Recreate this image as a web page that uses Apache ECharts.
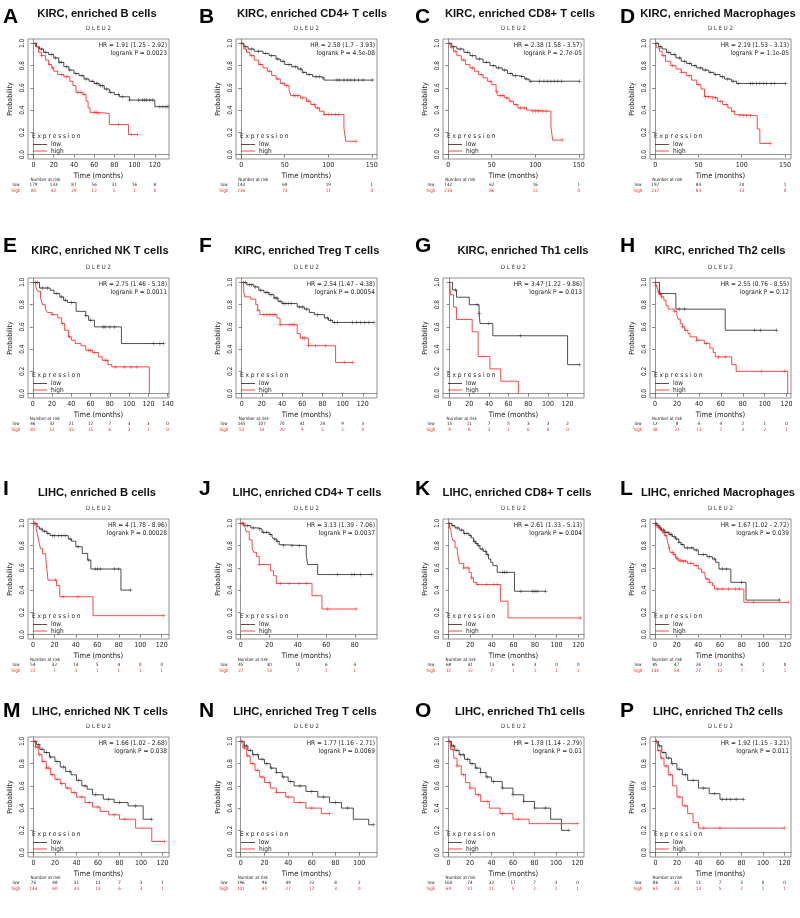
<!DOCTYPE html>
<html><head><meta charset="utf-8">
<script src="https://cdn.jsdelivr.net/npm/echarts@6/dist/echarts.min.js"></script>
<style>html,body{margin:0;padding:0;background:#fff}#c{width:800px;height:918px}</style>
</head><body><div id="c"></div>
<script>
// ---------------- DATA ----------------
const letters = ['A','B','C','D','E','F','G','H','I','J','K','L','M','N','O','P'];
const titles = ['KIRC, enriched B cells','KIRC, enriched CD4+ T cells','KIRC, enriched CD8+ T cells','KIRC, enriched Macrophages',
  'KIRC, enriched NK T cells','KIRC, enriched Treg T cells','KIRC, enriched Th1 cells','KIRC, enriched Th2 cells',
  'LIHC, enriched B cells','LIHC, enriched CD4+ T cells','LIHC, enriched CD8+ T cells','LIHC, enriched Macrophages',
  'LIHC, enriched NK T cells','LIHC, enriched Treg T cells','LIHC, enriched Th1 cells','LIHC, enriched Th2 cells'];
const hrTexts = ['HR = 1.91 (1.25 - 2.92)','HR = 2.58 (1.7 - 3.93)','HR = 2.38 (1.58 - 3.57)','HR = 2.19 (1.53 - 3.13)',
  'HR = 2.75 (1.46 - 5.18)','HR = 2.54 (1.47 - 4.38)','HR = 3.47 (1.22 - 9.86)','HR = 2.55 (0.76 - 8.55)',
  'HR = 4 (1.78 - 8.96)','HR = 3.13 (1.39 - 7.06)','HR = 2.61 (1.33 - 5.13)','HR = 1.67 (1.02 - 2.72)',
  'HR = 1.66 (1.02 - 2.68)','HR = 1.77 (1.16 - 2.71)','HR = 1.78 (1.14 - 2.79)','HR = 1.92 (1.15 - 3.21)'];
const pTexts = ['logrank P = 0.0023','logrank P = 4.5e-08','logrank P = 2.7e-05','logrank P = 1.1e-05',
  'logrank P = 0.0011','logrank P = 0.00054','logrank P = 0.013','logrank P = 0.12',
  'logrank P = 0.00028','logrank P = 0.0037','logrank P = 0.004','logrank P = 0.039',
  'logrank P = 0.038','logrank P = 0.0069','logrank P = 0.01','logrank P = 0.011'];
const yTicks = [0, 0.2, 0.4, 0.6, 0.8, 1.0];

// A
const A_ticks = [0,20,40,60,80,100,120];
const A_low = [[0,1],[3,0.97],[6,0.95],[10,0.92],[15,0.90],[20,0.87],[25,0.83],[30,0.79],[35,0.76],[40,0.73],[45,0.71],[50,0.68],[55,0.66],[60,0.64],[65,0.62],[70,0.59],[75,0.56],[80,0.54],[85,0.52],[95,0.49],[120,0.43],[133,0.43]];
const A_high = [[0,1],[2,0.97],[5,0.92],[8,0.89],[12,0.85],[15,0.81],[18,0.78],[20,0.75],[24,0.72],[30,0.70],[36,0.66],[39,0.62],[42,0.56],[49,0.54],[52,0.48],[54,0.42],[56,0.38],[63,0.37],[75,0.27],[94,0.18],[103,0.18]];
const A_lowCens = [2,8,12,18,22,26,28,33,36,42,48,52,58,62,63,66,68,72,76,84,88,95,104,108,110,112,115,118,125,128,131,133];
const A_highCens = [8,16,19,28,33,44,47,50,60,62,64,84,97,103];
const A_riskLow = [179,133,87,56,31,16,8];
const A_riskHigh = [83,42,29,12,5,1,0];
// B
const B_ticks = [0,50,100,150];
const B_low = [[0,1],[3,0.97],[8,0.95],[15,0.93],[25,0.91],[32,0.89],[40,0.86],[45,0.84],[50,0.81],[58,0.79],[65,0.77],[70,0.74],[75,0.72],[82,0.70],[92,0.69],[95,0.67],[151,0.67]];
const B_high = [[0,1],[3,0.95],[6,0.92],[10,0.89],[15,0.85],[20,0.81],[25,0.78],[30,0.75],[35,0.71],[40,0.68],[45,0.64],[50,0.62],[55,0.58],[57,0.53],[68,0.51],[75,0.48],[80,0.45],[85,0.42],[90,0.39],[95,0.36],[118,0.24],[120,0.12],[132,0.12]];
const B_lowCens = [1,5,12,20,28,35,42,48,55,62,68,72,78,86,90,94,110,113,118,122,126,130,135,140,151];
const B_highCens = [12,22,33,42,48,52,60,62,65,70,77,84,88,96,100,104,108,112,132];
const B_riskLow = [143,69,19,1];
const B_riskHigh = [236,73,11,0];
// C
const C_ticks = [0,50,100,150];
const C_low = [[0,1],[4,0.97],[10,0.95],[18,0.92],[25,0.89],[32,0.86],[40,0.83],[48,0.80],[55,0.78],[62,0.76],[68,0.73],[74,0.71],[80,0.70],[88,0.68],[93,0.66],[151,0.66]];
const C_high = [[0,1],[3,0.96],[6,0.93],[10,0.89],[15,0.85],[20,0.81],[25,0.78],[30,0.75],[35,0.72],[40,0.69],[45,0.66],[50,0.63],[55,0.57],[57,0.53],[65,0.51],[70,0.48],[75,0.45],[80,0.42],[90,0.40],[95,0.39],[118,0.25],[120,0.13],[131,0.13]];
const C_lowCens = [2,6,14,22,28,36,44,52,58,65,72,77,84,90,95,105,110,114,118,122,126,130,151];
const C_highCens = [8,18,28,38,48,56,60,63,67,72,78,83,88,97,100,104,108,113,131];
const C_riskLow = [142,62,16,1];
const C_riskHigh = [214,86,12,0];
// D
const D_ticks = [0,50,100,150];
const D_low = [[0,1],[4,0.97],[8,0.95],[13,0.92],[18,0.90],[24,0.87],[30,0.84],[36,0.82],[42,0.80],[48,0.78],[55,0.76],[62,0.74],[68,0.72],[75,0.70],[80,0.68],[88,0.66],[94,0.64],[151,0.64]];
const D_high = [[0,1],[2,0.96],[5,0.93],[8,0.89],[12,0.84],[18,0.80],[24,0.77],[30,0.74],[36,0.71],[42,0.67],[48,0.63],[53,0.59],[57,0.52],[65,0.51],[72,0.48],[78,0.45],[84,0.42],[88,0.39],[92,0.36],[95,0.35],[118,0.23],[121,0.10],[133,0.10]];
const D_lowCens = [2,6,15,22,28,34,40,46,52,58,64,70,78,84,90,96,110,113,117,121,125,129,134,138,151];
const D_highCens = [10,20,30,40,50,58,62,66,70,76,82,90,98,102,106,110,133];
const D_riskLow = [197,84,20,1];
const D_riskHigh = [237,83,13,0];
// E
const E_ticks = [0,20,40,60,80,100,120,140];
const E_low = [[0,1],[7,0.95],[18,0.93],[22,0.90],[28,0.87],[32,0.84],[36,0.82],[45,0.74],[55,0.70],[58,0.66],[64,0.60],[92,0.45],[136,0.45]];
const E_high = [[0,1],[3,0.96],[5,0.92],[8,0.86],[10,0.80],[13,0.76],[15,0.73],[20,0.71],[26,0.68],[30,0.63],[33,0.57],[37,0.51],[40,0.48],[44,0.45],[50,0.43],[55,0.39],[62,0.37],[68,0.33],[72,0.30],[78,0.26],[82,0.24],[121,0]];
const E_lowCens = [3,5,10,15,25,30,34,40,55,60,73,75,80,85,125,132,136];
const E_highCens = [20,31,38,58,60,64,75,77,86,95,102,108];
const E_riskLow = [46,32,21,12,7,3,3,0];
const E_riskHigh = [81,52,33,15,6,3,1,0];
// F
const F_ticks = [0,20,40,60,80,100,120];
const F_low = [[0,1],[5,0.98],[12,0.96],[17,0.93],[22,0.91],[27,0.89],[32,0.86],[36,0.83],[40,0.81],[55,0.78],[62,0.76],[67,0.73],[72,0.71],[82,0.68],[86,0.66],[90,0.64],[131,0.64]];
const F_high = [[0,1],[2,0.92],[3,0.87],[9,0.85],[14,0.80],[16,0.75],[18,0.71],[35,0.68],[38,0.62],[55,0.54],[58,0.50],[66,0.43],[93,0.28],[110,0.28]];
const F_lowCens = [2,4,8,10,14,19,24,26,29,33,35,38,41,43,46,49,57,60,64,75,85,88,92,95,110,114,118,122,126,131];
const F_highCens = [16,22,25,28,31,33,38,47,50,52,60,62,66,73,83,102,110];
const F_riskLow = [145,107,70,41,24,9,3];
const F_riskHigh = [53,33,20,9,5,2,0];
// G
const G_ticks = [0,20,40,60,80,100,120];
const G_low = [[0,1],[3,0.933],[7,0.867],[20,0.80],[30,0.72],[31,0.63],[44,0.52],[120,0.26],[132,0.26]];
const G_high = [[0,1],[1,0.889],[4,0.778],[7,0.667],[23,0.556],[29,0.333],[41,0.222],[52,0.111],[70,0]];
const G_lowCens = [6,28,30,40,72,132];
const G_highCens = [];
const G_riskLow = [15,11,7,5,3,3,2];
const G_riskHigh = [9,6,3,1,0,0,0];
// H
const H_ticks = [0,20,40,60,80,100,120];
const H_low = [[0,1],[4,0.9],[19,0.76],[64,0.57],[111,0.57]];
const H_high = [[0,1],[1,0.97],[2,0.95],[3,0.92],[4,0.89],[6,0.87],[8,0.84],[10,0.79],[12,0.76],[18,0.74],[20,0.70],[21,0.67],[23,0.63],[25,0.60],[27,0.57],[30,0.54],[32,0.51],[38,0.48],[45,0.45],[50,0.41],[53,0.37],[55,0.33],[70,0.26],[74,0.20],[121,0]];
const H_lowCens = [5,22,27,91,96,111];
const H_highCens = [1,3,5,6,18,25,28,38,47,58,64,97,118];
const H_riskLow = [12,8,4,4,2,1,0];
const H_riskHigh = [38,22,13,7,3,2,1];
// I
const I_ticks = [0,20,40,60,80,100,120];
const I_low = [[0,1],[4,0.97],[6,0.95],[9,0.93],[13,0.91],[16,0.89],[33,0.86],[36,0.84],[40,0.79],[46,0.73],[51,0.67],[54,0.59],[82,0.40],[91,0.40]];
const I_high = [[0,1],[3,0.955],[4,0.909],[5,0.864],[6,0.818],[7,0.773],[9,0.727],[12,0.682],[13,0.59],[14,0.49],[22,0.44],[25,0.34],[56,0.17],[122,0.17]];
const I_lowCens = [2,8,11,14,18,20,24,27,30,35,42,52,58,60,63,76,80,91];
const I_highCens = [1,2,21,28,42,122];
const I_riskLow = [54,32,14,5,4,0,0];
const I_riskHigh = [22,7,3,1,1,1,1];
// J
const J_ticks = [0,20,40,60,80];
const J_low = [[0,1],[2,0.98],[7,0.96],[12,0.95],[15,0.92],[20,0.90],[22,0.88],[23,0.86],[25,0.84],[27,0.81],[28,0.80],[46,0.71],[47,0.63],[54,0.54],[92,0.54]];
const J_high = [[0,1],[3,0.963],[4,0.926],[6,0.852],[8,0.778],[9,0.741],[11,0.704],[13,0.63],[21,0.574],[23,0.53],[25,0.46],[50,0.35],[57,0.23],[81,0.23]];
const J_lowCens = [1,5,9,13,16,18,21,24,26,30,36,41,68,78,80,84,92];
const J_highCens = [1,2,13,28,34,41,46,61,81];
const J_riskLow = [45,30,10,6,4];
const J_riskHigh = [27,13,7,2,1];
// K
const K_ticks = [0,20,40,60,80,100,120];
const K_low = [[0,1],[3,0.98],[6,0.96],[10,0.94],[14,0.91],[19,0.89],[21,0.87],[23,0.84],[25,0.82],[27,0.80],[29,0.77],[32,0.75],[35,0.72],[37,0.68],[39,0.65],[41,0.62],[45,0.56],[61,0.39],[90,0.39]];
const K_high = [[0,1],[1,0.969],[2,0.938],[3,0.875],[4,0.844],[6,0.781],[8,0.75],[9,0.688],[10,0.64],[14,0.60],[19,0.56],[21,0.51],[23,0.47],[26,0.45],[48,0.30],[55,0.15],[122,0.15]];
const K_lowCens = [1,4,8,12,15,17,20,24,26,28,31,34,36,50,52,54,67,78,80,82,90];
const K_highCens = [1,14,18,21,27,35,42,45,122];
const K_riskLow = [68,41,13,6,3,0,0];
const K_riskHigh = [32,12,7,1,1,1,1];
// L
const L_ticks = [0,20,40,60,80,100,120];
const L_low = [[0,1],[2,0.98],[4,0.96],[6,0.94],[9,0.92],[13,0.90],[16,0.88],[19,0.86],[22,0.83],[24,0.81],[27,0.78],[36,0.76],[40,0.72],[48,0.70],[53,0.68],[56,0.65],[59,0.59],[70,0.47],[84,0.31],[115,0.31]];
const L_high = [[0,1],[1,0.98],[3,0.96],[5,0.94],[7,0.92],[9,0.89],[11,0.86],[12,0.82],[13,0.78],[14,0.74],[17,0.72],[19,0.69],[21,0.67],[24,0.66],[30,0.64],[36,0.62],[40,0.59],[43,0.56],[46,0.53],[47,0.50],[50,0.47],[53,0.44],[55,0.41],[82,0.29],[123,0.29]];
const L_lowCens = [1,3,5,8,10,12,14,15,18,20,22,25,30,34,38,45,50,55,62,66,80,115];
const L_highCens = [1,2,4,6,8,10,13,16,18,20,22,24,26,28,33,38,48,50,58,62,68,74,78,91,123];
const L_riskLow = [85,47,24,12,6,2,0];
const L_riskHigh = [134,54,27,12,7,1,1];
// M
const M_ticks = [0,20,40,60,80,100,120];
const M_low = [[0,1],[3,0.97],[6,0.93],[10,0.90],[15,0.86],[20,0.82],[25,0.77],[30,0.73],[35,0.70],[40,0.65],[45,0.60],[50,0.57],[55,0.52],[65,0.48],[75,0.45],[88,0.42],[102,0.30],[110,0.30]];
const M_high = [[0,1],[2,0.95],[5,0.88],[8,0.82],[12,0.76],[16,0.70],[20,0.66],[25,0.62],[30,0.58],[35,0.54],[40,0.50],[48,0.45],[55,0.41],[62,0.37],[70,0.34],[80,0.30],[95,0.22],[110,0.10],[122,0.10]];
const M_lowCens = [2,5,8,12,16,22,28,34,42,48,58,70,80,95,110];
const M_highCens = [1,2,4,6,9,12,14,18,22,26,32,38,45,52,60,75,85,122];
const M_riskLow = [76,48,31,11,7,3,1];
const M_riskHigh = [144,60,33,13,6,3,1];
// N
const N_ticks = [0,20,40,60,80,100];
const N_low = [[0,1],[3,0.96],[6,0.92],[10,0.88],[15,0.84],[20,0.80],[25,0.76],[30,0.72],[35,0.68],[40,0.64],[45,0.60],[55,0.55],[65,0.50],[75,0.45],[85,0.40],[95,0.30],[108,0.25],[112,0.25]];
const N_high = [[0,1],[2,0.94],[5,0.87],[8,0.80],[12,0.74],[16,0.68],[20,0.63],[25,0.58],[30,0.54],[38,0.50],[45,0.45],[55,0.40],[68,0.35],[75,0.35]];
const N_lowCens = [1,3,5,8,11,14,18,22,26,30,36,42,50,60,70,80,90,112];
const N_highCens = [1,3,6,10,14,18,24,30,40,50,60,75];
const N_riskLow = [196,96,49,22,8,2];
const N_riskHigh = [101,45,27,12,3,0];
// O
const O_ticks = [0,20,40,60,80,100,120];
const O_low = [[0,1],[3,0.96],[6,0.92],[10,0.88],[15,0.84],[20,0.80],[25,0.76],[30,0.72],[35,0.68],[40,0.64],[50,0.58],[60,0.52],[70,0.46],[80,0.40],[95,0.30],[105,0.20],[112,0.20]];
const O_high = [[0,1],[2,0.93],[5,0.85],[8,0.78],[12,0.70],[16,0.63],[20,0.58],[25,0.52],[30,0.46],[38,0.40],[48,0.35],[60,0.30],[75,0.26],[120,0.26]];
const O_lowCens = [1,3,5,8,11,14,18,22,26,30,36,42,50,60,70,80,90,112];
const O_highCens = [1,4,8,14,20,28,36,50,65,120];
const O_riskLow = [160,74,32,17,7,3,0];
const O_riskHigh = [69,31,11,5,2,1,1];
// P
const P_ticks = [0,20,40,60,80,100,120];
const P_low = [[0,1],[3,0.96],[6,0.90],[10,0.85],[15,0.80],[20,0.75],[25,0.70],[30,0.65],[40,0.58],[50,0.53],[60,0.48],[82,0.48]];
const P_high = [[0,1],[2,0.92],[5,0.85],[8,0.78],[12,0.70],[16,0.60],[20,0.50],[25,0.42],[30,0.35],[35,0.27],[40,0.22],[120,0.22]];
const P_lowCens = [1,4,8,12,16,22,28,35,45,55,62,66,70,75,82];
const P_highCens = [1,3,6,10,14,22,28,45,60,120];
const P_riskLow = [86,41,11,7,3,0,0];
const P_riskHigh = [65,24,13,5,2,1,1];

// ---------------- LAYOUT ----------------
const colLeft = [28, 236, 443, 650];
const rowTop = [39, 278, 519, 737];
const BOX_W = 141, BOX_H = 120;
const xLimits = [[-5.4,134],[-6,156],[-6,156],[-6,157],
  [-5,141.4],[-5.6,134],[-6.7,136.7],[-4.6,124],
  [-4.6,126.8],[-3.3,95.6],[-5.2,125.4],[-4.6,125.5],
  [-5,126],[-4,115],[-5,126],[-5,126]];
const titleCX = [97,312,520,718, 100,307,523,720, 97,307,517,718, 100,305,520,718];
const titleY = [14, 251, 493, 712];
const letterX = [3,199,415,620];
const letterY = [17, 246, 489, 711];

const raw = {A:[A_ticks,A_low,A_high,A_lowCens,A_highCens,A_riskLow,A_riskHigh],
 B:[B_ticks,B_low,B_high,B_lowCens,B_highCens,B_riskLow,B_riskHigh],
 C:[C_ticks,C_low,C_high,C_lowCens,C_highCens,C_riskLow,C_riskHigh],
 D:[D_ticks,D_low,D_high,D_lowCens,D_highCens,D_riskLow,D_riskHigh],
 E:[E_ticks,E_low,E_high,E_lowCens,E_highCens,E_riskLow,E_riskHigh],
 F:[F_ticks,F_low,F_high,F_lowCens,F_highCens,F_riskLow,F_riskHigh],
 G:[G_ticks,G_low,G_high,G_lowCens,G_highCens,G_riskLow,G_riskHigh],
 H:[H_ticks,H_low,H_high,H_lowCens,H_highCens,H_riskLow,H_riskHigh],
 I:[I_ticks,I_low,I_high,I_lowCens,I_highCens,I_riskLow,I_riskHigh],
 J:[J_ticks,J_low,J_high,J_lowCens,J_highCens,J_riskLow,J_riskHigh],
 K:[K_ticks,K_low,K_high,K_lowCens,K_highCens,K_riskLow,K_riskHigh],
 L:[L_ticks,L_low,L_high,L_lowCens,L_highCens,L_riskLow,L_riskHigh],
 M:[M_ticks,M_low,M_high,M_lowCens,M_highCens,M_riskLow,M_riskHigh],
 N:[N_ticks,N_low,N_high,N_lowCens,N_highCens,N_riskLow,N_riskHigh],
 O:[O_ticks,O_low,O_high,O_lowCens,O_highCens,O_riskLow,O_riskHigh],
 P:[P_ticks,P_low,P_high,P_lowCens,P_highCens,P_riskLow,P_riskHigh]};

const SMALL = "'Liberation Sans Narrow','DejaVu Sans Condensed','DejaVu Sans',sans-serif";
const BOLD = "'Liberation Sans',Arial,Helvetica,sans-serif";
const BLACK = '#222', RED = '#ff1a1a';
const PLUS = 'path://M-0.6,-5 L0.6,-5 L0.6,-0.6 L5,-0.6 L5,0.6 L0.6,0.6 L0.6,5 L-0.6,5 L-0.6,0.6 L-5,0.6 L-5,-0.6 L-0.6,-0.6 Z';

function survAt(curve, t) {
  let s = curve[0][1];
  for (const p of curve) { if (p[0] <= t) s = p[1]; else break; }
  return s;
}

const grids = [], xAxes = [], yAxes = [], series = [], graphics = [];
letters.forEach((L, i) => {
  const [ticks, low, high, lowC, highC] = raw[L];
  const r = Math.floor(i / 4), c = i % 4;
  const left = colLeft[c], top = rowTop[r];
  grids.push({left, top, width: BOX_W, height: BOX_H, show: true, borderColor: '#777', borderWidth: 0.8, containLabel: false});
  xAxes.push({type: 'value', gridIndex: i, min: xLimits[i][0], max: xLimits[i][1],
    axisLine: {show: true, lineStyle: {color: '#777', width: 0.8}},
    axisTick: {show: true, customValues: ticks, length: 3, lineStyle: {color: '#666', width: 0.8}},
    axisLabel: {customValues: ticks, fontSize: 7, margin: 3, color: '#222', fontFamily: SMALL},
    splitLine: {show: false},
    name: 'Time (months)', nameLocation: 'middle', nameGap: 13,
    nameTextStyle: {fontSize: 7.5, color: '#222', fontFamily: SMALL}});
  yAxes.push({type: 'value', gridIndex: i, min: -0.04, max: 1.04,
    axisLine: {show: true, lineStyle: {color: '#777', width: 0.8}},
    axisTick: {show: true, customValues: yTicks, length: 3, lineStyle: {color: '#666', width: 0.8}},
    axisLabel: {customValues: yTicks, fontSize: 6.5, margin: 2, rotate: 90, color: '#222', fontFamily: SMALL,
      formatter: v => v.toFixed(1)},
    splitLine: {show: false},
    name: 'Probability', nameLocation: 'middle', nameGap: 14, nameRotate: 90,
    nameTextStyle: {fontSize: 7, color: '#222', fontFamily: SMALL}});
  series.push({type: 'line', xAxisIndex: i, yAxisIndex: i, data: low, step: 'end', symbol: 'none',
    lineStyle: {color: BLACK, width: 0.8}, silent: true, z: 3});
  series.push({type: 'line', xAxisIndex: i, yAxisIndex: i, data: high, step: 'end', symbol: 'none',
    lineStyle: {color: RED, width: 0.8}, silent: true, z: 4});
  series.push({type: 'scatter', xAxisIndex: i, yAxisIndex: i, data: lowC.map(t => [t, survAt(low, t)]),
    symbol: PLUS, symbolSize: 4, itemStyle: {color: BLACK}, silent: true, z: 3});
  series.push({type: 'scatter', xAxisIndex: i, yAxisIndex: i, data: highC.map(t => [t, survAt(high, t)]),
    symbol: PLUS, symbolSize: 4, itemStyle: {color: RED}, silent: true, z: 4});
});

const chart = echarts.init(document.getElementById('c'));
chart.setOption({animation: false, backgroundColor: '#fff', grid: grids, xAxis: xAxes, yAxis: yAxes, series});

function txt(text, x, y, font, fill, align, vAlign) {
  return {type: 'text', silent: true, z: 10, style: {text, x, y, font, fill: fill || '#222', align: align || 'left', verticalAlign: vAlign || 'middle'}};
}
letters.forEach((L, i) => {
  const [ticks, low, high, lowC, highC, riskLow, riskHigh] = raw[L];
  const r = Math.floor(i / 4), c = i % 4;
  const left = colLeft[c], top = rowTop[r], right = left + BOX_W, bottom = top + BOX_H;
  graphics.push(txt(L, letterX[c], letterY[r], 'bold 21px ' + BOLD, '#000', 'left', 'middle'));
  graphics.push(txt(titles[i], titleCX[i], titleY[r], 'bold 11.2px ' + BOLD, '#111', 'center', 'middle'));
  graphics.push(txt('D L E U 2', left + BOX_W / 2, top - 10.5, '6px ' + SMALL, '#333', 'center', 'middle'));
  graphics.push(txt(hrTexts[i], right - 2, top + 6, '6.5px ' + SMALL, '#222', 'right', 'middle'));
  graphics.push(txt(pTexts[i], right - 2, top + 14, '6.5px ' + SMALL, '#222', 'right', 'middle'));
  // legend
  graphics.push(txt('E x p r e s s i o n', left + 4, bottom - 23, '6.5px ' + SMALL, '#222', 'left', 'middle'));
  graphics.push({type: 'line', silent: true, z: 10, shape: {x1: left + 5, y1: bottom - 14.5, x2: left + 19, y2: bottom - 14.5}, style: {stroke: BLACK, lineWidth: 0.8}});
  graphics.push({type: 'line', silent: true, z: 10, shape: {x1: left + 5, y1: bottom - 8, x2: left + 19, y2: bottom - 8}, style: {stroke: RED, lineWidth: 0.8}});
  graphics.push(txt('low', left + 23, bottom - 14.5, '6.5px ' + SMALL, '#222', 'left', 'middle'));
  graphics.push(txt('high', left + 23, bottom - 8, '6.5px ' + SMALL, '#222', 'left', 'middle'));
  // number at risk
  graphics.push(txt('Number at risk', chart.convertToPixel({gridIndex: i}, [ticks[0], 0])[0] - 3, bottom + 21, '4.5px ' + SMALL, '#222', 'left', 'middle'));
  graphics.push(txt('low', left - 12, bottom + 26, '4.5px ' + SMALL, '#222', 'center', 'middle'));
  graphics.push(txt('high', left - 12, bottom + 31.5, '4.5px ' + SMALL, RED, 'center', 'middle'));
  ticks.forEach((t, k) => {
    const px = chart.convertToPixel({gridIndex: i}, [t, 0])[0];
    graphics.push(txt(String(riskLow[k]), px, bottom + 26, '4.5px ' + SMALL, '#222', 'center', 'middle'));
    graphics.push(txt(String(riskHigh[k]), px, bottom + 31.5, '4.5px ' + SMALL, RED, 'center', 'middle'));
  });
});
chart.setOption({graphic: graphics});
</script></body></html>
